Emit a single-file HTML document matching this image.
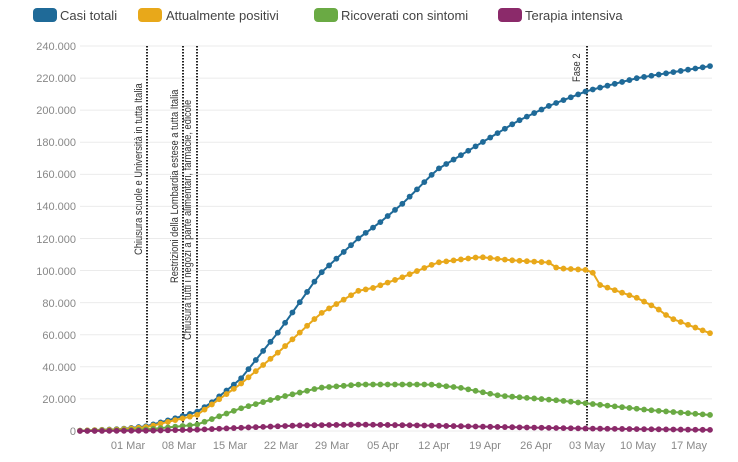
<!DOCTYPE html>
<html><head><meta charset="utf-8"><style>
body{margin:0;background:#fff;}
svg{display:block;font-family:"Liberation Sans",sans-serif;}
</style></head><body>
<svg id="c" width="738" height="462" viewBox="0 0 738 462" xmlns="http://www.w3.org/2000/svg">
<g font-size="13" fill="#444">
<rect x="33" y="8" width="24" height="14" rx="4" fill="#1f6a98"/><text x="60" y="20">Casi totali</text>
<rect x="138" y="8" width="24" height="14" rx="4" fill="#e8a81a"/><text x="166" y="20">Attualmente positivi</text>
<rect x="314" y="8" width="24" height="14" rx="4" fill="#6aaa44"/><text x="341" y="20">Ricoverati con sintomi</text>
<rect x="498" y="8" width="24" height="14" rx="4" fill="#8b2a6a"/><text x="525" y="20">Terapia intensiva</text>
</g>
<g id="grid" stroke="#ebebeb" stroke-width="1"></g>
<g font-size="11" fill="#888" text-anchor="end">
<text x="76" y="50">240.000</text><text x="76" y="82">220.000</text><text x="76" y="114">200.000</text>
<text x="76" y="146">180.000</text><text x="76" y="178">160.000</text><text x="76" y="210">140.000</text>
<text x="76" y="243">120.000</text><text x="76" y="275">100.000</text><text x="76" y="307">80.000</text>
<text x="76" y="339">60.000</text><text x="76" y="371">40.000</text><text x="76" y="403">20.000</text>
<text x="76" y="435">0</text>
</g>
<g font-size="11" fill="#888" text-anchor="middle">
<text x="128" y="449">01 Mar</text><text x="179" y="449">08 Mar</text><text x="230" y="449">15 Mar</text>
<text x="281" y="449">22 Mar</text><text x="332" y="449">29 Mar</text><text x="383" y="449">05 Apr</text>
<text x="434" y="449">12 Apr</text><text x="485" y="449">19 Apr</text><text x="536" y="449">26 Apr</text>
<text x="587" y="449">03 May</text><text x="638" y="449">10 May</text><text x="689" y="449">17 May</text>
</g>
<g stroke="#222" stroke-width="2" stroke-dasharray="1.5,1.5">
<line x1="147" y1="46" x2="147" y2="431"/><line x1="183" y1="46" x2="183" y2="431"/>
<line x1="197" y1="46" x2="197" y2="431"/><line x1="587" y1="46" x2="587" y2="431"/>
</g>
<g font-size="11" fill="#333">
<text transform="translate(142,255) rotate(-90) scale(0.85,1)">Chiusura scuole e Università in tutta Italia</text>
<text transform="translate(178,283) rotate(-90) scale(0.85,1)">Restrizioni della Lombardia estese a tutta Italia</text>
<text transform="translate(191,340) rotate(-90) scale(0.85,1)">Chiusura tutti i negozi a parte alimentari, farmacie, edicole</text>
<text transform="translate(580,82) rotate(-90) scale(0.85,1)">Fase 2</text>
</g>
<g id="series"></g>
</svg>
<script>
var NS="http://www.w3.org/2000/svg";
var g=document.getElementById("grid");
for(var k=0;k<=12;k++){var y=46+k*32.08;var l=document.createElementNS(NS,"line");l.setAttribute("x1",80);l.setAttribute("x2",712);l.setAttribute("y1",y);l.setAttribute("y2",y);g.appendChild(l);}
function Y(v){return 431-v/20*32.08;}
var S=[
["#1f6a98",[[80,0.2],[120,1.2],[147,3],[170,7],[197,12],[210,17],[240,32],[280,63],[320,98],[360,121],[378,129],[403,142],[437,163],[477,178],[517,193],[550,203],[587,212],[637,220],[710,227.5]]],
["#e8a81a",[[80,0.2],[120,1],[147,2.5],[170,6],[197,10],[240,29],[280,50],[320,73],[360,88],[370,88.5],[403,96],[437,105],[480,108.5],[510,106.5],[550,105],[557,101.5],[587,100.4],[592,99.5],[600,91],[637,83],[657,76.5],[670,70.5],[710,61]]],
["#6aaa44",[[80,0.1],[120,0.5],[147,1],[197,4],[240,14],[280,21],[320,27],[360,29],[430,29],[460,27],[500,22],[560,19],[590,17],[650,13],[710,10]]],
["#8b2a6a",[[80,0],[147,0.2],[197,0.8],[240,2],[300,3.5],[360,4],[420,3.5],[500,2.5],[590,1.5],[710,0.7]]]
];
function interp(p,x){for(var i=1;i<p.length;i++){if(x<=p[i][0]){var a=p[i-1],b=p[i];return a[1]+(b[1]-a[1])*(x-a[0])/(b[0]-a[0]);}}return p[p.length-1][1];}
var sg=document.getElementById("series");
S.forEach(function(s){
 var pts=[];for(var i=0;i<=86;i++){var x=80+i*(630/86);pts.push([x,Y(interp(s[1],x))]);}
 var pl=document.createElementNS(NS,"polyline");pl.setAttribute("points",pts.map(function(p){return p[0].toFixed(1)+","+p[1].toFixed(1)}).join(" "));
 pl.setAttribute("fill","none");pl.setAttribute("stroke",s[0]);pl.setAttribute("stroke-width","2");sg.appendChild(pl);
 pts.forEach(function(p){var c=document.createElementNS(NS,"circle");c.setAttribute("cx",p[0]);c.setAttribute("cy",p[1]);c.setAttribute("r",2.9);c.setAttribute("fill",s[0]);sg.appendChild(c);});
});
</script>
</body></html>
